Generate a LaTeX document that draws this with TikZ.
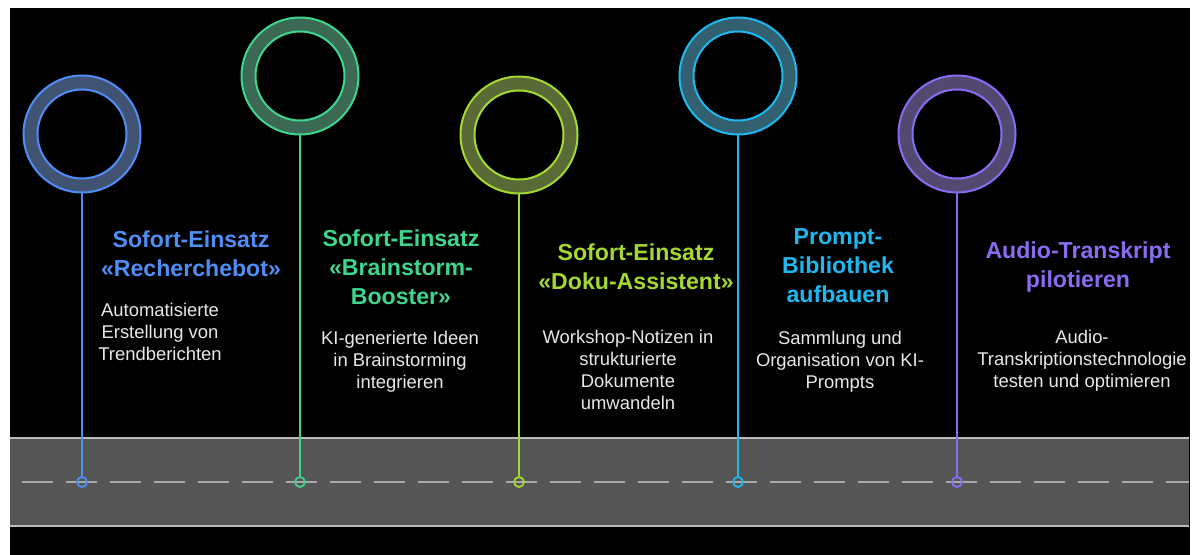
\documentclass[tikz,border=0pt]{standalone}
\usepackage{fontspec}
\setmainfont{Liberation Sans}
\definecolor{cBlue}{HTML}{4F8EF7}
\definecolor{cGreen}{HTML}{3DD68C}
\definecolor{cLime}{HTML}{A3D930}
\definecolor{cCyan}{HTML}{1EB8F0}
\definecolor{cPurple}{HTML}{8A6CF2}
\definecolor{ringbase}{HTML}{3A3A3A}
\definecolor{roadgray}{HTML}{555555}
\definecolor{roadline}{HTML}{BDBDBD}
\definecolor{bodytext}{HTML}{E8E8E8}
\tikzset{
  outerring/.style={circle, minimum size=117bp, inner sep=0pt, line width=2bp, draw=#1, fill=#1!30!ringbase},
  innerring/.style={circle, minimum size=89bp, inner sep=0pt, line width=2bp, draw=#1, fill=black},
  marker/.style={circle, minimum size=10bp, inner sep=0pt, line width=1.8bp, draw=#1},
  stem/.style={line width=2bp, draw=#1},
  title/.style={text=#1, align=center, inner sep=0pt, font=\fontsize{23.2}{29}\selectfont\bfseries},
  body/.style={text=bodytext, align=center, inner sep=0pt, font=\fontsize{18.5}{22}\selectfont},
}
\begin{document}
\begin{tikzpicture}[x=1bp, y=-1bp]
  % page and black canvas
  \useasboundingbox (0,0) rectangle (1197,555);
  \fill[white] (0,0) rectangle (1197,555);
  \fill[black] (10,8) rectangle (1190,555);

  % road
  \fill[roadgray] (10,438) rectangle (1189,526);
  \draw[roadline, line width=2.5bp] (10,438) -- (1189,438);
  \draw[roadline, line width=2.5bp] (10,526) -- (1189,526);
  \draw[roadline!90!black, line width=2.5bp, dash pattern=on 31bp off 13bp, dash phase=32bp] (10,482) -- (1189,482);

  % milestone rings
  \node[outerring=cBlue]   (r1) at (82,134)  {};
  \node[outerring=cGreen]  (r2) at (300,76)  {};
  \node[outerring=cLime]   (r3) at (519,135) {};
  \node[outerring=cCyan]   (r4) at (738,76)  {};
  \node[outerring=cPurple] (r5) at (957,134) {};
  \node[innerring=cBlue]   (i1) at (r1) {};
  \node[innerring=cGreen]  (i2) at (r2) {};
  \node[innerring=cLime]   (i3) at (r3) {};
  \node[innerring=cCyan]   (i4) at (r4) {};
  \node[innerring=cPurple] (i5) at (r5) {};

  % markers on the road
  \node[marker=cBlue]   (m1) at (82,482)  {};
  \node[marker=cGreen]  (m2) at (300,482) {};
  \node[marker=cLime]   (m3) at (519,482) {};
  \node[marker=cCyan]   (m4) at (738,482) {};
  \node[marker=cPurple] (m5) at (957,482) {};

  % stems
  \draw[stem=cBlue]   (r1.south) -- (m1.north);
  \draw[stem=cGreen]  (r2.south) -- (m2.north);
  \draw[stem=cLime]   (r3.south) -- (m3.north);
  \draw[stem=cCyan]   (r4.south) -- (m4.north);
  \draw[stem=cPurple] (r5.south) -- (m5.north);

  % titles
  \node[title=cBlue]   (t1) at (191,254)  {Sofort-Einsatz\\«Recherchebot»};
  \node[title=cGreen]  (t2) at (401,267)  {Sofort-Einsatz\\«Brainstorm-\\Booster»};
  \node[title=cLime]   (t3) at (636,267)  {Sofort-Einsatz\\«Doku-Assistent»};
  \node[title=cCyan]   (t4) at (838,266)  {Prompt-\\Bibliothek\\aufbauen};
  \node[title=cPurple] (t5) at (1078,267) {Audio-Transkript\\pilotieren};

  % descriptions
  \node[body] (b1) at (160,332)  {Automatisierte\\Erstellung von\\Trendberichten};
  \node[body] (b2) at (400,362)  {KI-generierte Ideen\\in Brainstorming\\integrieren};
  \node[body] (b3) at (628,370)  {Workshop-Notizen in\\strukturierte\\Dokumente\\umwandeln};
  \node[body] (b4) at (840,362)  {Sammlung und\\Organisation von KI-\\Prompts};
  \node[body] (b5) at (1082,361) {Audio-\\Transkriptionstechnologie\\testen und optimieren};
\end{tikzpicture}
\end{document}
